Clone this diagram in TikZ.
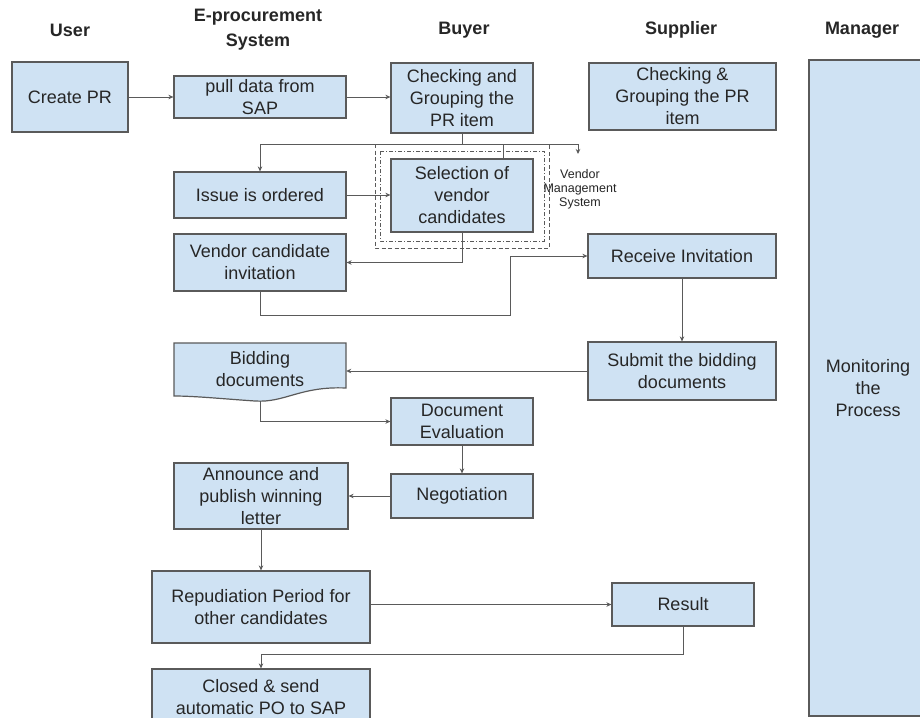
\documentclass[tikz,border=0pt]{standalone}
\usepackage{fontspec}
\setmainfont{Liberation Sans}
\usetikzlibrary{arrows.meta,calc}
\definecolor{boxfill}{HTML}{CFE2F3}
\definecolor{boxline}{HTML}{5A5A5A}
\definecolor{txt}{HTML}{262626}
\pgfdeclarelayer{bg}
\pgfsetlayers{bg,main}
\begin{document}
\begin{tikzpicture}[x=1pt,y=-1pt,
  box/.style={draw=boxline, line width=1.2pt, fill=boxfill, inner sep=0pt, align=center, text=txt, font=\fontsize{18}{22}\selectfont},
  plain/.style={inner sep=0pt, align=center, text=txt, font=\fontsize{18}{22}\selectfont},
  hdr/.style={align=center, inner sep=0pt, font=\bfseries\fontsize{18}{25}\selectfont, text=black!85},
  small/.style={align=center, inner sep=0pt, font=\fontsize{12.5}{14}\selectfont, text=txt},
  arr/.style={draw=boxline, line width=1pt, -{Stealth[length=5pt,width=4.5pt]}},
  ln/.style={draw=boxline, line width=1pt},
  dashbox/.style={draw=boxline, line width=0.8pt, dash pattern=on 4pt off 2.5pt},
  dotbox/.style={draw=boxline, line width=0.8pt, dash pattern=on 4pt off 2pt on 1pt off 2pt}]
\useasboundingbox (0,0) rectangle (920,717);

% headers
\node[hdr] (hUser) at (70,30) {User};
\node[hdr] (hEproc) at (258,30) {E-procurement\\System};
\node[hdr] (hBuyer) at (464,30) {Buyer};
\node[hdr] (hSupp) at (681,30) {Supplier};
\node[hdr] (hMan) at (862,30) {Manager};

% manager lane
\node[box, minimum width=118pt, minimum height=656pt] (manager) at (868,388) {Monitoring\\the\\Process};

% boxes
\node[box, minimum width=116pt, minimum height=70pt] (createpr) at (70,97) {Create PR};
\node[box, minimum width=172pt, minimum height=42pt] (pull) at (260,97) {pull data from\\SAP};
\node[box, minimum width=142pt, minimum height=70pt] (chkbuyer) at (462,98) {Checking and\\Grouping the\\PR item};
\node[box, minimum width=187pt, minimum height=67pt] (chksup) at (682.5,96.5) {Checking \&\\Grouping the PR\\item};

\node[box, minimum width=172pt, minimum height=46pt] (issue) at (260,195) {Issue is ordered};
\node[box, minimum width=142pt, minimum height=73pt] (selection) at (462,195.5) {Selection of\\vendor\\candidates};
\node[small] (vms) at (580,189) {Vendor\\Management\\System};

\node[box, minimum width=172pt, minimum height=57pt] (vci) at (260,262.5) {Vendor candidate\\invitation};
\node[box, minimum width=188pt, minimum height=44pt] (receive) at (682,256) {Receive Invitation};
\node[box, minimum width=188pt, minimum height=58pt] (submit) at (682,371) {Submit the bidding\\documents};

% bidding documents (document shape)
\path[draw=boxline, line width=1.2pt, fill=boxfill] (174,343) -- (346,343) -- (346,388)
  .. controls (300,386) and (285,403) .. (255,401)
  .. controls (225,399) and (195,396) .. (174,396) -- cycle;
\node[plain, minimum width=172pt, minimum height=53pt] (bidding) at (260,369.5) {Bidding\\documents};

\node[box, minimum width=142pt, minimum height=47pt] (doceval) at (462,421.5) {Document\\Evaluation};
\node[box, minimum width=142pt, minimum height=44pt] (nego) at (462,496) {Negotiation};
\node[box, minimum width=174pt, minimum height=66pt] (announce) at (261,496) {Announce and\\publish winning\\letter};
\node[box, minimum width=218pt, minimum height=72pt] (repud) at (261,607) {Repudiation Period for\\other candidates};
\node[box, minimum width=142pt, minimum height=43pt] (result) at (683,604.5) {Result};
\node[box, minimum width=218pt, minimum height=56pt] (closed) at (261,697) {Closed \& send\\automatic PO to SAP};

% helper coordinates
\coordinate (hb) at (462,144);
\coordinate (hb2) at (503,144);
\coordinate (vmsarrow) at (578,154);
\coordinate (c1) at (510,315);
\coordinate (c2) at (261,654);

\begin{pgfonlayer}{bg}
  \fill[white] (0,0) rectangle (920,717);
  \draw[dashbox] (375,144) rectangle (549,248);
  \draw[dotbox] (380,151) rectangle (544,241);

  \draw[arr] (createpr.east) -- (createpr.east -| pull.west);
  \draw[arr] (pull.east) -- (pull.east -| chkbuyer.west);
  \draw[arr] (chkbuyer.south) -- (hb) -| (issue.north);
  \draw[arr] (hb) -| (vmsarrow);
  \draw[ln] (hb2) -- (hb2 |- selection.north);
  \draw[arr] (issue.east) -- (issue.east -| selection.west);
  \draw[arr] (selection.south) |- (vci.east);
  \draw[arr] (vci.south) |- (c1) |- (receive.west);
  \draw[arr] (receive.south) -- (submit.north);
  \draw[arr] (submit.west) -- (submit.west -| bidding.east);
  \draw[arr] (bidding.south) |- (doceval.west);
  \draw[arr] (doceval.south) -- (nego.north);
  \draw[arr] (nego.west) -- (nego.west -| announce.east);
  \draw[arr] (announce.south) -- (repud.north);
  \draw[arr] (result.west -| repud.east) -- (result.west);
  \draw[arr] (result.south) |- (c2) -- (closed.north);
\end{pgfonlayer}
\end{tikzpicture}
\end{document}
